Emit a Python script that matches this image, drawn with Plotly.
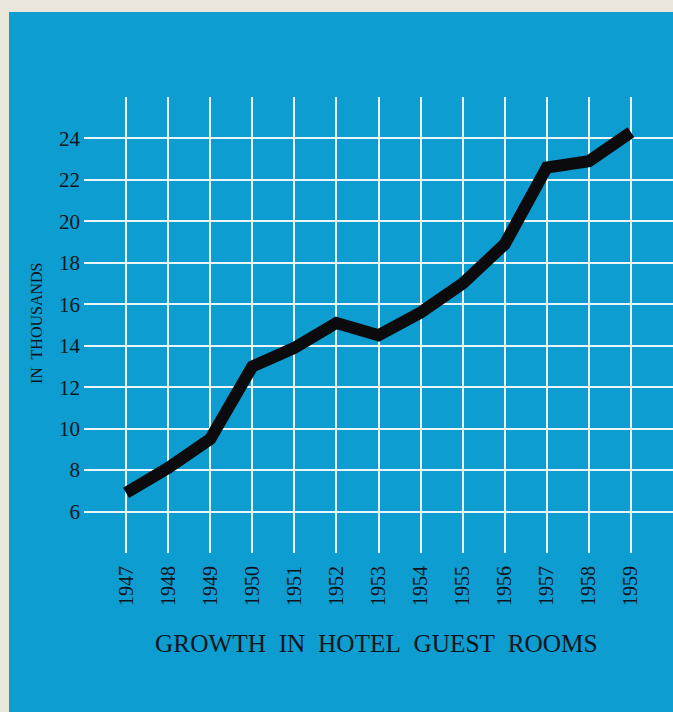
import plotly.graph_objects as go

# Hotel guest rooms, in thousands, 1947-1959
years = [1947, 1948, 1949, 1950, 1951, 1952, 1953, 1954, 1955, 1956, 1957, 1958, 1959]
rooms_thousands = [6.9, 8.1, 9.5, 13.0, 13.9, 15.1, 14.5, 15.6, 17.0, 18.9, 22.6, 22.9, 24.3]
y_ticks = [6, 8, 10, 12, 14, 16, 18, 20, 22, 24]

BLUE = "#0e9dd0"
BEIGE = "#ebe6dc"
GRID = "#eaf5f8"
INK = "#0f1520"
SERIF = "Liberation Serif, Times New Roman, serif"

W, H = 673, 712
ML, MR, MT, MB = 84, 0, 97, 159
PW, PH = W - ML - MR, H - MT - MB


def px_x(px):
    return (px - ML) / PW


def px_y(py):
    return (H - MB - py) / PH


fig = go.Figure()
fig.add_trace(go.Scatter(
    x=years, y=rooms_thousands, mode="lines",
    line=dict(color="#0b0b0d", width=12),
    hoverinfo="skip", showlegend=False,
))

# blue card on the beige page
fig.add_shape(type="rect", xref="paper", yref="paper",
              x0=px_x(9), x1=px_x(W + 2), y0=px_y(12), y1=px_y(H + 2),
              fillcolor=BLUE, line=dict(width=0), layer="below")

fig.add_annotation(
    text="GROWTH&nbsp; IN&nbsp; HOTEL&nbsp; GUEST&nbsp; ROOMS",
    xref="paper", yref="paper", x=px_x(376.5), y=px_y(643),
    xanchor="center", yanchor="middle", showarrow=False,
    font=dict(family=SERIF, size=25.3, color=INK),
)
fig.add_annotation(
    text="IN&nbsp; THOUSANDS",
    xref="paper", yref="paper", x=px_x(36), y=px_y(323),
    xanchor="center", yanchor="middle", textangle=-90, showarrow=False,
    font=dict(family=SERIF, size=16, color=INK),
)

fig.update_layout(
    width=W, height=H,
    margin=dict(l=ML, r=MR, t=MT, b=MB, pad=0),
    paper_bgcolor=BEIGE, plot_bgcolor=BLUE,
    xaxis=dict(
        range=[1946, 1960], tickvals=years, ticktext=[str(y) for y in years],
        tickangle=-90, showgrid=True, gridcolor=GRID, gridwidth=2,
        zeroline=False, showline=False, ticks="", ticklabelstandoff=8,
        tickfont=dict(family=SERIF, size=20, color=INK), fixedrange=True,
    ),
    yaxis=dict(
        range=[4, 26], tickvals=y_ticks, ticktext=[str(v) for v in y_ticks],
        showgrid=True, gridcolor=GRID, gridwidth=2,
        zeroline=False, showline=False, ticks="", ticklabelstandoff=3,
        tickfont=dict(family=SERIF, size=21, color=INK), fixedrange=True,
    ),
)

fig.write_html("out.html")
